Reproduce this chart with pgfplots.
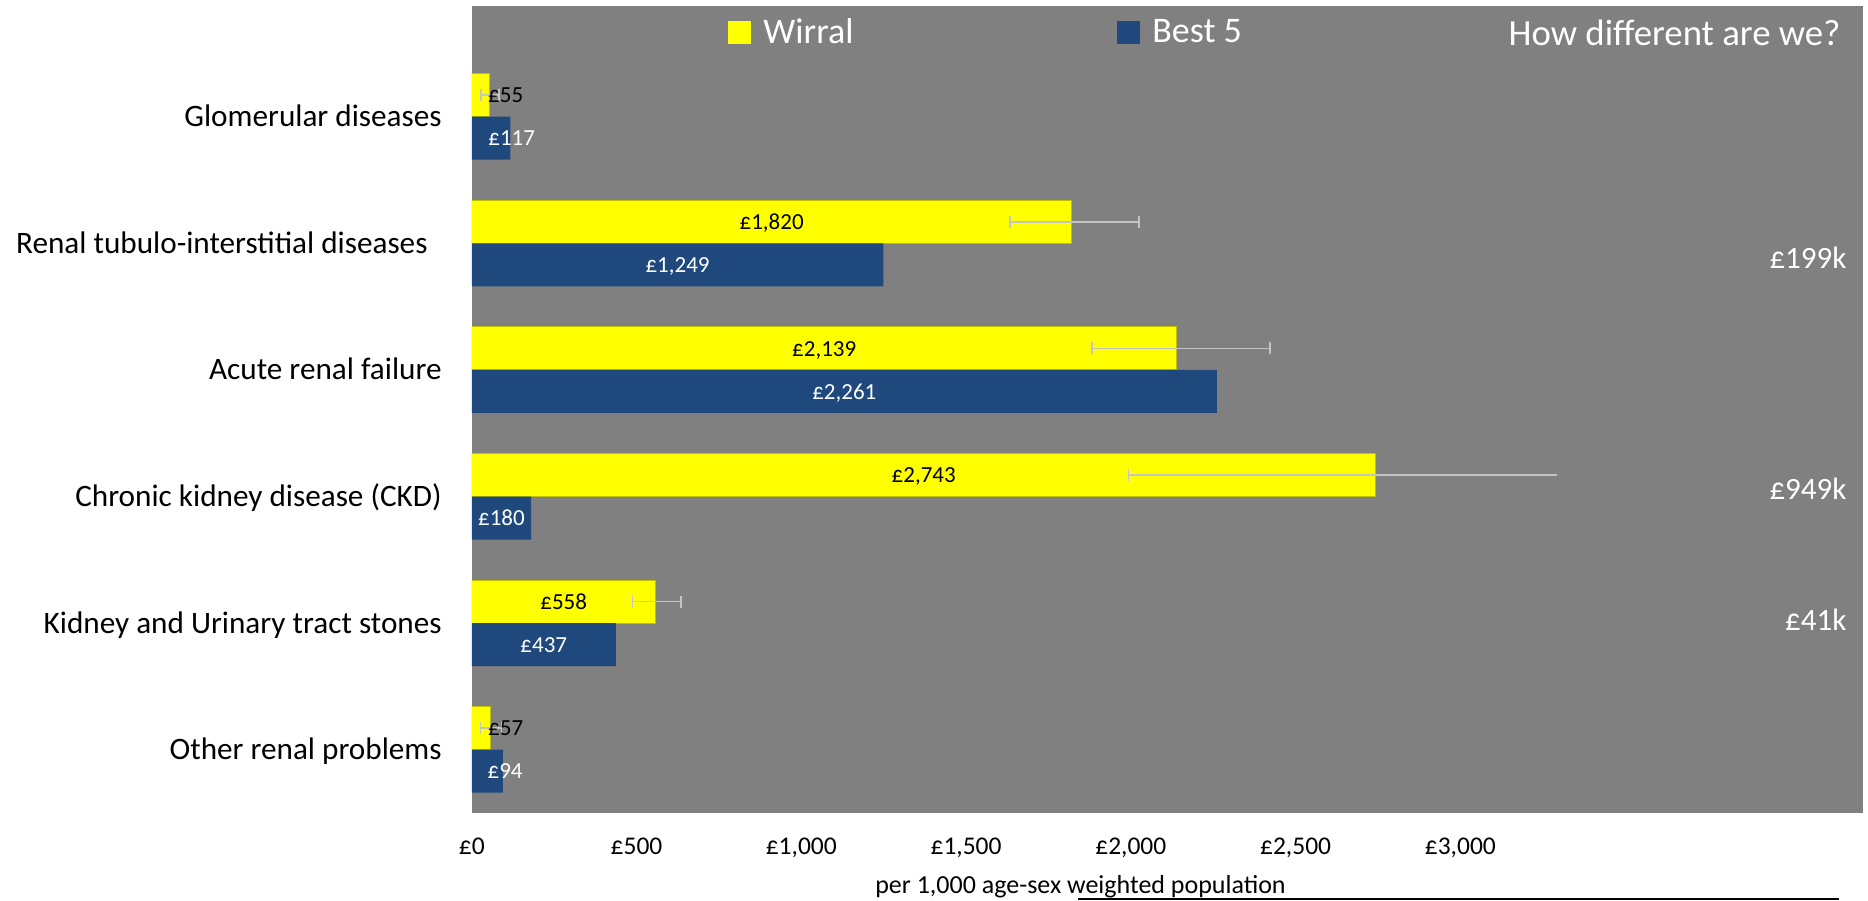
\documentclass[border=0pt]{standalone}
\usepackage{fontspec}
\setmainfont{Carlito}
\usepackage{pgfplots}
\usepackage{pgfplotstable}
\pgfplotsset{compat=1.18}
\definecolor{wyellow}{HTML}{FFFF00}
\definecolor{wblue}{HTML}{1F497D}
\definecolor{bggrey}{HTML}{808080}
\definecolor{errgrey}{HTML}{C4C4C4}
\newcommand{\fs}[1]{\fontsize{#1}{#1}\selectfont}
\pgfplotstableread{
x y ep em
57 0.1698 33 30
558 1.1698 76 70
2139 3.1698 283 256
1820 4.1698 205 187
55 5.1698 27 27
}\errtab
\pgfplotstableread{
x y lab
103 5.1698 £55
910 4.1698 £1,820
1069.5 3.1698 £2,139
1371.5 2.1698 £2,743
279 1.1698 £558
103 0.1698 £57
}\ylab
\pgfplotstableread{
x y lab
121 4.8302 £117
624.5 3.8302 £1,249
1130.5 2.8302 £2,261
90 1.8302 £180
218.5 0.8302 £437
101 -0.1698 £94
}\blab
\begin{document}
\begin{tikzpicture}
\useasboundingbox (-235.9pt,-43.75pt) rectangle (698.1pt,406.25pt);
\begin{axis}[
  at={(0,0)}, anchor=south west,
  scale only axis, width=695.6pt, height=403.2pt,
  xmin=0, xmax=4222, ymin=-0.496, ymax=5.874,
  axis background/.style={fill=bggrey},
  axis line style={draw=none},
  major tick length=0pt,
  xtick={0,500,...,3000},
  xticklabels={£0,£500,{£1,000},{£1,500},{£2,000},{£2,500},{£3,000}},
  xticklabel style={anchor=base, yshift=-21pt, font=\fs{12.75}},
  ytick={0,...,5},
  yticklabels={Other renal problems, Kidney and Urinary tract stones, Chronic kidney disease (CKD), Acute renal failure, {Renal tubulo-interstitial diseases\kern7pt\mbox{}}, Glomerular diseases},
  yticklabel style={anchor=base east, inner sep=0pt, xshift=-14.9pt, yshift=-5pt, font=\fs{15.6}},
  xlabel={per 1,000 age-sex weighted population},
  xlabel style={at={(axis description cs:0.4375,0)}, anchor=base, yshift=-40.25pt, font=\fs{13}},
  legend columns=2,
  legend style={at={(axis description cs:0.1836,0.9677)}, anchor=west, draw=none, fill=none, text=white, font=\fs{18}, inner sep=0pt,
    /tikz/every odd column/.append style={column sep=4.5pt},
    /tikz/every even column/.append style={column sep=129.5pt}},
  errbar/.style={xbar, bar width=0pt, bar shift=0pt, draw=none, fill=none, forget plot},
]
\addplot[xbar, bar width=21.5pt, bar shift=10.75pt, fill=wyellow, draw=wyellow!75!black, line width=0.5pt, forget plot]
  coordinates {(57,0) (558,1) (2743,2) (2139,3) (1820,4) (55,5)};
\addplot[xbar, bar width=21.5pt, bar shift=-10.75pt, fill=wblue, draw=none, forget plot]
  coordinates {(94,0) (437,1) (180,2) (2261,3) (1249,4) (117,5)};
% error bars on Wirral
\addplot[errbar,
  error bars/.cd, x dir=both, x explicit,
  error bar style={errgrey, line width=0.8pt},
  error mark options={errgrey, mark size=3pt, line width=0.8pt, rotate=90}]
  table[x=x, y=y, x error plus=ep, x error minus=em] {\errtab};
\addplot[errbar,
  error bars/.cd, x dir=minus, x explicit,
  error bar style={errgrey, line width=0.8pt},
  error mark options={errgrey, mark size=3pt, line width=0.8pt, rotate=90}]
  coordinates {(2743,2.1698) -= (750,0)};
\addplot[errbar,
  error bars/.cd, x dir=plus, x explicit, error mark=none,
  error bar style={errgrey, line width=0.8pt}]
  coordinates {(2743,2.1698) += (549,0)};
% data labels
\addplot[only marks, mark=none, forget plot, nodes near coords, point meta=explicit symbolic,
  every node near coord/.append style={anchor=base, yshift=-3.8pt, font=\fs{11.5}, text=black}]
  table[x=x, y=y, meta=lab] {\ylab};
\addplot[only marks, mark=none, forget plot, nodes near coords, point meta=explicit symbolic,
  every node near coord/.append style={anchor=base, yshift=-3.8pt, font=\fs{11.5}, text=white}]
  table[x=x, y=y, meta=lab] {\blab};
% legend
\addlegendimage{legend image code/.code={\fill[wyellow] (0pt,-5.5pt) rectangle (11pt,5.5pt);}}
\addlegendentry{Wirral}
\addlegendimage{legend image code/.code={\fill[wblue] (0pt,-5.5pt) rectangle (11pt,5.5pt);}}
\addlegendentry{Best 5}
% annotations
\node[anchor=base east, inner sep=0pt, yshift=-5.9pt, font=\fs{18.4}, text=white] at (axis description cs:0.984,0.9655) {How different are we?};
\node[anchor=base east, inner sep=0pt, yshift=-4.9pt, font=\fs{15.5}, text=white] at (axis cs:4173,3.880) {£199k};
\node[anchor=base east, inner sep=0pt, yshift=-4.9pt, font=\fs{15.5}, text=white] at (axis cs:4173,2.054) {£949k};
\node[anchor=base east, inner sep=0pt, yshift=-4.9pt, font=\fs{15.5}, text=white] at (axis cs:4173,1.019) {£41k};
\end{axis}
\draw[black, line width=0.6pt] (303.6pt,-43.75pt) -- (303.6pt,-43.25pt) -- (683.1pt,-43.25pt) -- (683.1pt,-43.75pt);
\end{tikzpicture}
\end{document}
